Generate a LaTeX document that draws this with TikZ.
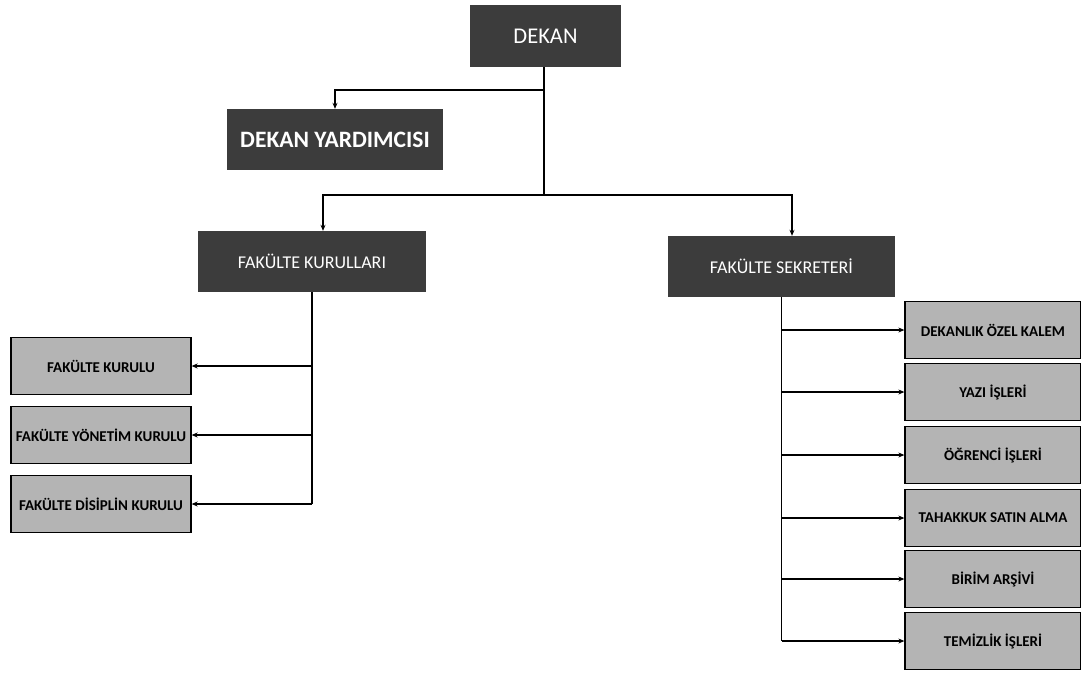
\documentclass[tikz,border=0pt]{standalone}
\usepackage{fontspec}
\setmainfont{Carlito}
\usetikzlibrary{arrows.meta}
\definecolor{darkbox}{HTML}{3C3C3C}
\definecolor{lightbox}{HTML}{B4B4B4}
\begin{document}
\begin{tikzpicture}[x=1pt,y=-1pt,
  topbox/.style={fill=darkbox,draw=none,text=white,inner sep=0pt,align=center},
  subbox/.style={fill=lightbox,draw=black,line width=1.3pt,inner sep=0pt,align=center,
    minimum width=180pt,minimum height=57pt,font=\fontsize{15}{17}\selectfont\bfseries},
  rbox/.style={subbox,minimum width=176pt},
  conn/.style={draw=black,line width=1.6pt},
  arr/.style={conn,-{Stealth[length=6pt,width=5pt]}}]
\useasboundingbox (0,0) rectangle (1081,673);
\fill[white] (0,0) rectangle (1081,673);

\node[topbox,minimum width=151pt,minimum height=62pt,font=\fontsize{22.5}{24}\selectfont] (dekan) at (545.5,36) {DEKAN};
\node[topbox,minimum width=216pt,minimum height=61pt,font=\fontsize{23.5}{26}\selectfont\bfseries] (yard) at (335,139.5) {DEKAN YARDIMCISI};
\node[topbox,minimum width=228pt,minimum height=61pt,font=\fontsize{18}{20}\selectfont] (kur) at (312,261.5) {FAKÜLTE KURULLARI};
\node[topbox,minimum width=227pt,minimum height=61pt,font=\fontsize{18}{20}\selectfont] (sek) at (781.5,266.5) {FAKÜLTE SEKRETERİ};

\node[subbox] (l1) at (101,366) {FAKÜLTE KURULU};
\node[subbox] (l2) at (101,435) {FAKÜLTE YÖNETİM KURULU};
\node[subbox] (l3) at (101,504) {FAKÜLTE DİSİPLİN KURULU};

\node[rbox] (r1) at (993,330) {DEKANLIK ÖZEL KALEM};
\node[rbox] (r2) at (993,392) {YAZI İŞLERİ};
\node[rbox] (r3) at (993,455) {ÖĞRENCİ İŞLERİ};
\node[rbox] (r4) at (993,518) {TAHAKKUK SATIN ALMA};
\node[rbox] (r5) at (993,579) {BİRİM ARŞİVİ};
\node[rbox] (r6) at (993,641) {TEMİZLİK İŞLERİ};

\coordinate (j1) at ([xshift=-1.5pt]dekan.south |- 0,90);
\coordinate (j2) at ([xshift=-1.5pt]dekan.south |- 0,195);
\coordinate (kt) at ([xshift=11pt]kur.north);
\coordinate (st) at ([xshift=10.5pt]sek.north);

\draw[conn] ([xshift=-1.5pt]dekan.south) -- (j2);
\draw[arr] (j1) -| (yard.north);
\draw[arr] (j2) -| (kt);
\draw[arr] (j2) -| (st);

\draw[conn] (kur.south) -- (kur.south |- l3.east);
\draw[arr] (kur.south |- l1.east) -- (l1.east);
\draw[arr] (kur.south |- l2.east) -- (l2.east);
\draw[arr] (kur.south |- l3.east) -- (l3.east);

\draw[conn] (sek.south) -- (sek.south |- r6.west);
\foreach \n in {r1,r2,r3,r4,r5,r6}{
  \draw[arr] (sek.south |- \n.west) -- (\n.west);
}
\end{tikzpicture}
\end{document}
